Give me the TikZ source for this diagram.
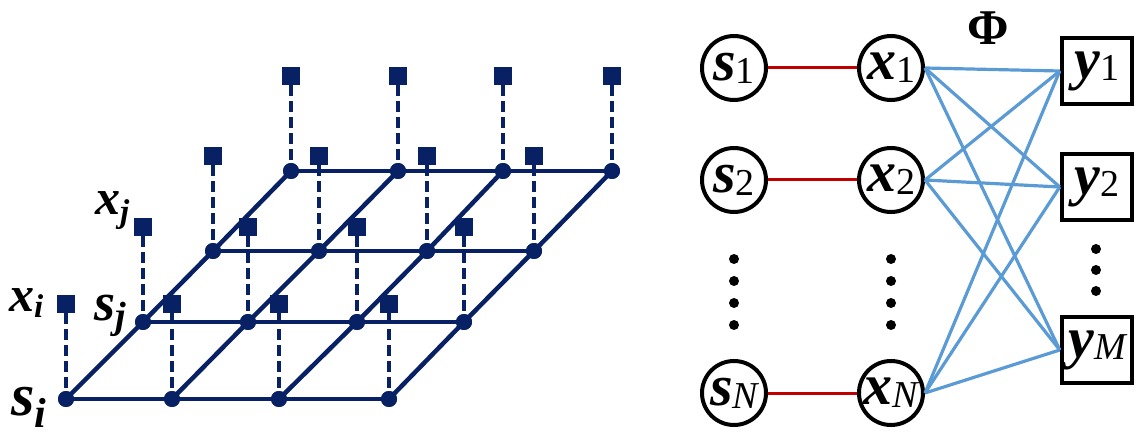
\documentclass[tikz,border=0pt]{standalone}
\usepackage{fontspec}
\setmainfont{Liberation Serif}
\definecolor{navy}{RGB}{8,32,100}
\definecolor{lblue}{RGB}{91,155,213}
\definecolor{dred}{RGB}{192,0,0}
\tikzset{
  gdot/.style={circle,fill=navy,inner sep=0,minimum size=16pt},
  gsq/.style={rectangle,fill=navy,inner sep=0,minimum size=18pt},
  gline/.style={draw=navy,line width=4.5pt},
  gdash/.style={draw=navy,line width=4.2pt,dash pattern=on 11pt off 5pt},
  lbl/.style={inner sep=0,anchor=base west,font=\bfseries\itshape},
  cnode/.style={circle,draw=black,line width=4pt,minimum size=64pt,inner sep=0,fill=white},
  bnode/.style={rectangle,draw=black,line width=4.5pt,minimum width=70pt,minimum height=66pt,inner sep=0,fill=white},
  bdot/.style={circle,fill=black,inner sep=0,minimum size=10pt},
  redl/.style={draw=dred,line width=3pt},
  bluel/.style={draw=lblue,line width=3.2pt},
}
\newcommand{\lab}[3]{{\fontsize{#3}{#3}\selectfont\bfseries\itshape #1}\raisebox{-0.28em}{\fontsize{38}{38}\selectfont #2}}
\begin{document}
\begin{tikzpicture}[x=1pt,y=-1pt]
\useasboundingbox (0,0) rectangle (1146,438);
% grid dot positions
\foreach \r/\xs/\yy in {0/{66,172,279,389}/399, 1/{143,248,357,464}/322, 2/{213,319,427,534}/251, 3/{291,398,503,612}/171}{
  \foreach \xx [count=\c] in \xs {
    \node[gdot] (d\r\c) at (\xx,\yy) {};
    \node[gsq] (q\r\c) at (\xx,\yy-95) {};
  }
}
% solid grid lines
\foreach \r in {0,1,2,3}{
  \draw[gline] (d\r1.center) -- (d\r2.center) -- (d\r3.center) -- (d\r4.center);
}
\foreach \c in {1,2,3,4}{
  \draw[gline] (d0\c.center) -- (d1\c.center) -- (d2\c.center) -- (d3\c.center);
}
% dashed links
\foreach \r in {0,1,2,3}{
  \foreach \c in {1,2,3,4}{
    \draw[gdash] (q\r\c.south) -- (d\r\c.center);
  }
}
\foreach \r in {0,1,2,3}{
  \foreach \c in {1,2,3,4}{
    \node[gdot] at (d\r\c) {};
  }
}
% labels left
\node[lbl] (lxi) at (9,312) {\fontsize{50}{50}\selectfont x\raisebox{-0.12em}{\fontsize{33}{33}\selectfont i}};
\node[lbl] (lxj) at (95,215) {\fontsize{50}{50}\selectfont x\raisebox{-0.15em}{\fontsize{33}{33}\selectfont j}};
\node[lbl] (lsi) at (11,415) {\fontsize{60}{60}\selectfont s\raisebox{-0.2em}{\fontsize{42}{42}\selectfont i}};
\node[lbl] (lsj) at (94,320) {\fontsize{54}{54}\selectfont s\raisebox{-0.15em}{\fontsize{38}{38}\selectfont j}};
% right side
\node[cnode] (s1) at (734,68) {\lab{s}{1}{58}};
\node[cnode] (s2) at (734,180) {\lab{s}{2}{58}};
\node[cnode] (sN) at (734,393) {\lab{s}{\itshape N}{58}};
\node[cnode] (x1) at (891,68) {\lab{x}{1}{58}};
\node[cnode] (x2) at (891,180) {\lab{x}{2}{58}};
\node[cnode] (xN) at (891,393) {\lab{x}{\itshape N}{58}};
\node[bnode] (y1) at (1097,71) {\lab{y}{1}{58}};
\node[bnode] (y2) at (1097,187) {\lab{y}{2}{58}};
\node[bnode] (yM) at (1097,350) {\lab{y}{\itshape M}{58}};
\node[inner sep=0,font=\bfseries\fontsize{50}{50}\selectfont] (phi) at (988,28) {Φ};
\draw[redl] (s1) -- (x1);
\draw[redl] (s2) -- (x2);
\draw[redl] (sN) -- (xN);
\foreach \a in {x1,x2,xN}{
  \foreach \b in {y1,y2,yM}{
    \draw[bluel] (\a.east) -- (\b.west);
  }
}
\foreach \yy [count=\i] in {259,281,303,325}{
  \node[bdot] (ls\i) at (734,\yy) {};
  \node[bdot] (lx\i) at (891,\yy) {};
}
\foreach \yy [count=\i] in {249,270,291}{
  \node[bdot] (ly\i) at (1096,\yy) {};
}
\end{tikzpicture}
\end{document}
